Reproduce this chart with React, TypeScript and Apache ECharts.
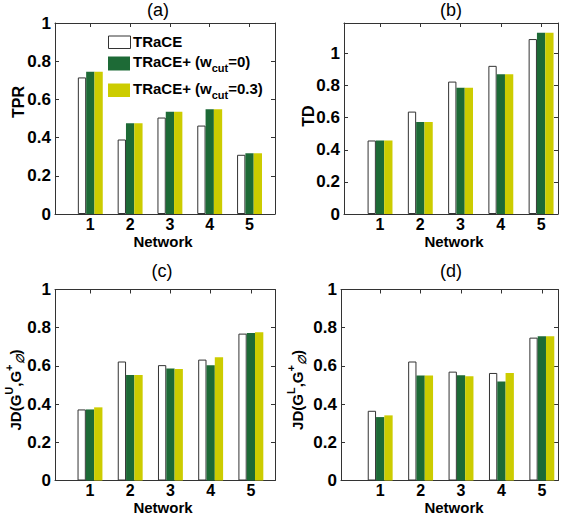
import React, { useEffect, useRef } from "react";
import * as echarts from "echarts";

// ---- data ----
const networks = [1, 2, 3, 4, 5];
const yTicks = [0, 0.2, 0.4, 0.6, 0.8, 1];

const tprTrace = [0.715, 0.39, 0.505, 0.463, 0.31];
const tprW0 = [0.745, 0.475, 0.535, 0.548, 0.318];
const tprW03 = [0.745, 0.475, 0.535, 0.548, 0.318];

const tdTrace = [0.458, 0.638, 0.825, 0.923, 1.09];
const tdW0 = [0.458, 0.573, 0.786, 0.871, 1.129];
const tdW03 = [0.458, 0.573, 0.786, 0.871, 1.129];

const jdUTrace = [0.372, 0.623, 0.604, 0.633, 0.769];
const jdUW0 = [0.372, 0.553, 0.587, 0.603, 0.772];
const jdUW03 = [0.383, 0.553, 0.584, 0.645, 0.776];

const jdLTrace = [0.365, 0.623, 0.57, 0.563, 0.748];
const jdLW0 = [0.332, 0.55, 0.551, 0.518, 0.755];
const jdLW03 = [0.341, 0.55, 0.546, 0.563, 0.755];

// ---- styling ----
const FONT = "'Liberation Sans', Arial, Helvetica, sans-serif";
const FRAME = "#333333";
const COLORS = ["#ffffff", "#1d6a36", "#cccc00"];
const BORDERS = ["#333333", "#1d6a36", "#cccc00"];
const NAMES = ["TRaCE", "TRaCE+ (w_cut=0)", "TRaCE+ (w_cut=0.3)"];

const panels = [
  { title: "(a)", series: [tprTrace, tprW0, tprW03], left: 55, top: 23, width: 220, height: 191, xMin: 0.113, xMax: 5.64, yMax: 1, tx: 158, ty: 10, nx: 163, ny: 241 },
  { title: "(b)", series: [tdTrace, tdW0, tdW03], left: 344, top: 23, width: 214, height: 191, xMin: 0.105, xMax: 5.42, yMax: 1.19, tx: 451, ty: 10, nx: 454, ny: 241 },
  { title: "(c)", series: [jdUTrace, jdUW0, jdUW03], left: 55, top: 289.5, width: 220, height: 191, xMin: 0.13, xMax: 5.6, yMax: 1, tx: 162, ty: 271, nx: 163, ny: 507 },
  { title: "(d)", series: [jdLTrace, jdLW0, jdLW03], left: 341, top: 289.5, width: 217, height: 191, xMin: 0.03, xMax: 5.4, yMax: 1, tx: 451, ty: 271, nx: 454, ny: 507 },
];

const richBase = {
  m: { fontSize: 15, fontWeight: "bold", fontFamily: FONT, fill: "#000" },
  s: { fontSize: 11, fontWeight: "bold", fontFamily: FONT, fill: "#000", padding: [14, 0, 0, 0] },
  p: { fontSize: 11, fontWeight: "bold", fontFamily: FONT, fill: "#000", padding: [0, 0, 12, 0] },
  q: { fontSize: 11, fontWeight: "bold", fontStyle: "italic", fontFamily: FONT, fill: "#000", padding: [10, 0, 0, 0] },
};

function textEl(x: number, y: number, text: string, size: number, weight: string, rotation = 0, rich?: any) {
  return {
    type: "text",
    x,
    y,
    rotation,
    silent: true,
    style: {
      text,
      fontSize: size,
      fontWeight: weight,
      fontFamily: FONT,
      fill: "#000",
      align: "center",
      textAlign: "center",
      verticalAlign: "middle",
      textVerticalAlign: "middle",
      rich,
    },
  };
}

function buildOption() {
  const grid: any[] = [];
  const xAxis: any[] = [];
  const yAxis: any[] = [];
  const series: any[] = [];
  const graphic: any[] = [];

  panels.forEach((p, pi) => {
    grid.push({ left: p.left, top: p.top, width: p.width, height: p.height, show: false, containLabel: false });
    const lineStyle = { color: FRAME, width: 1 };
    const xBase = {
      type: "value",
      gridIndex: pi,
      min: p.xMin,
      max: p.xMax,
      splitLine: { show: false },
      axisLine: { show: true, onZero: false, lineStyle },
      axisTick: { show: true, inside: true, length: 4, customValues: networks, lineStyle },
    };
    xAxis.push({
      ...xBase,
      position: "bottom",
      axisLabel: { show: true, customValues: networks, fontSize: 16, fontWeight: "bold", fontFamily: FONT, color: "#000", margin: 2 },
    });
    xAxis.push({ ...xBase, position: "top", axisLabel: { show: false } });
    const yBase = {
      type: "value",
      gridIndex: pi,
      min: 0,
      max: p.yMax,
      splitLine: { show: false },
      axisLine: { show: true, onZero: false, lineStyle },
      axisTick: { show: true, inside: true, length: 4, customValues: yTicks, lineStyle },
    };
    yAxis.push({
      ...yBase,
      position: "left",
      axisLabel: { show: true, customValues: yTicks, fontSize: 17, fontWeight: "bold", fontFamily: FONT, color: "#000", margin: 4, formatter: (v: number) => String(Math.round(v * 10) / 10) },
    });
    yAxis.push({ ...yBase, position: "right", axisLabel: { show: false } });

    p.series.forEach((vals, si) => {
      series.push({
        type: "bar",
        name: NAMES[si],
        xAxisIndex: pi * 2,
        yAxisIndex: pi * 2,
        barWidth: 8.3,
        barGap: "0%",
        silent: true,
        itemStyle: { color: COLORS[si], borderColor: BORDERS[si], borderWidth: si === 0 ? 1 : 0 },
        data: networks.map((n, i) => [n, vals[i]]),
      });
    });

    graphic.push(textEl(p.tx, p.ty, p.title, 18, "normal"));
    graphic.push(textEl(p.nx, p.ny, "Network", 15, "bold"));
  });

  // y-axis names
  graphic.push(textEl(18, 102, "TPR", 16, "bold", Math.PI / 2));
  graphic.push(textEl(308, 116, "TD", 16, "bold", Math.PI / 2));
  graphic.push(textEl(15, 390, "{m|JD(G}{p|U}{m|,G}{p|+}{q|∅}{m|)}", 15, "bold", Math.PI / 2, richBase));
  graphic.push(textEl(297, 390, "{m|JD(G}{p|L}{m|,G}{p|+}{q|∅}{m|)}", 15, "bold", Math.PI / 2, richBase));

  // legend (panel a)
  const swatches = [
    { y: 36, h: 12.5 },
    { y: 56.5, h: 14 },
    { y: 83.5, h: 13.5 },
  ];
  swatches.forEach((s, i) => {
    graphic.push({
      type: "rect",
      silent: true,
      shape: { x: i === 0 ? 108.5 : 108, y: s.y, width: 22, height: s.h },
      style: { fill: COLORS[i], stroke: i === 0 ? FRAME : COLORS[i], lineWidth: i === 0 ? 1 : 0 },
    });
  });
  const legendTexts = ["{m|TRaCE}", "{m|TRaCE+ (w}{s|cut}{m|=0)}", "{m|TRaCE+ (w}{s|cut}{m|=0.3)}"];
  const legendY = [41.7, 61, 88];
  legendTexts.forEach((t, i) => {
    graphic.push({
      type: "text",
      x: 133,
      y: legendY[i],
      silent: true,
      style: {
        text: t,
        fontSize: 15,
        fontWeight: "bold",
        fontFamily: FONT,
        fill: "#000",
        align: "left",
        textAlign: "left",
        verticalAlign: "middle",
        textVerticalAlign: "middle",
        rich: richBase,
      },
    });
  });

  return {
    animation: false,
    backgroundColor: "#ffffff",
    grid,
    xAxis,
    yAxis,
    series,
    graphic,
  };
}

export default function App() {
  const ref = useRef<HTMLDivElement>(null);
  useEffect(() => {
    if (!ref.current) return;
    const chart = echarts.init(ref.current, undefined, { renderer: "svg" });
    chart.setOption(buildOption() as any);
    return () => chart.dispose();
  }, []);
  return <div ref={ref} style={{ position: "fixed", left: 0, top: 0, width: 567, height: 515, background: "#fff" }} />;
}
